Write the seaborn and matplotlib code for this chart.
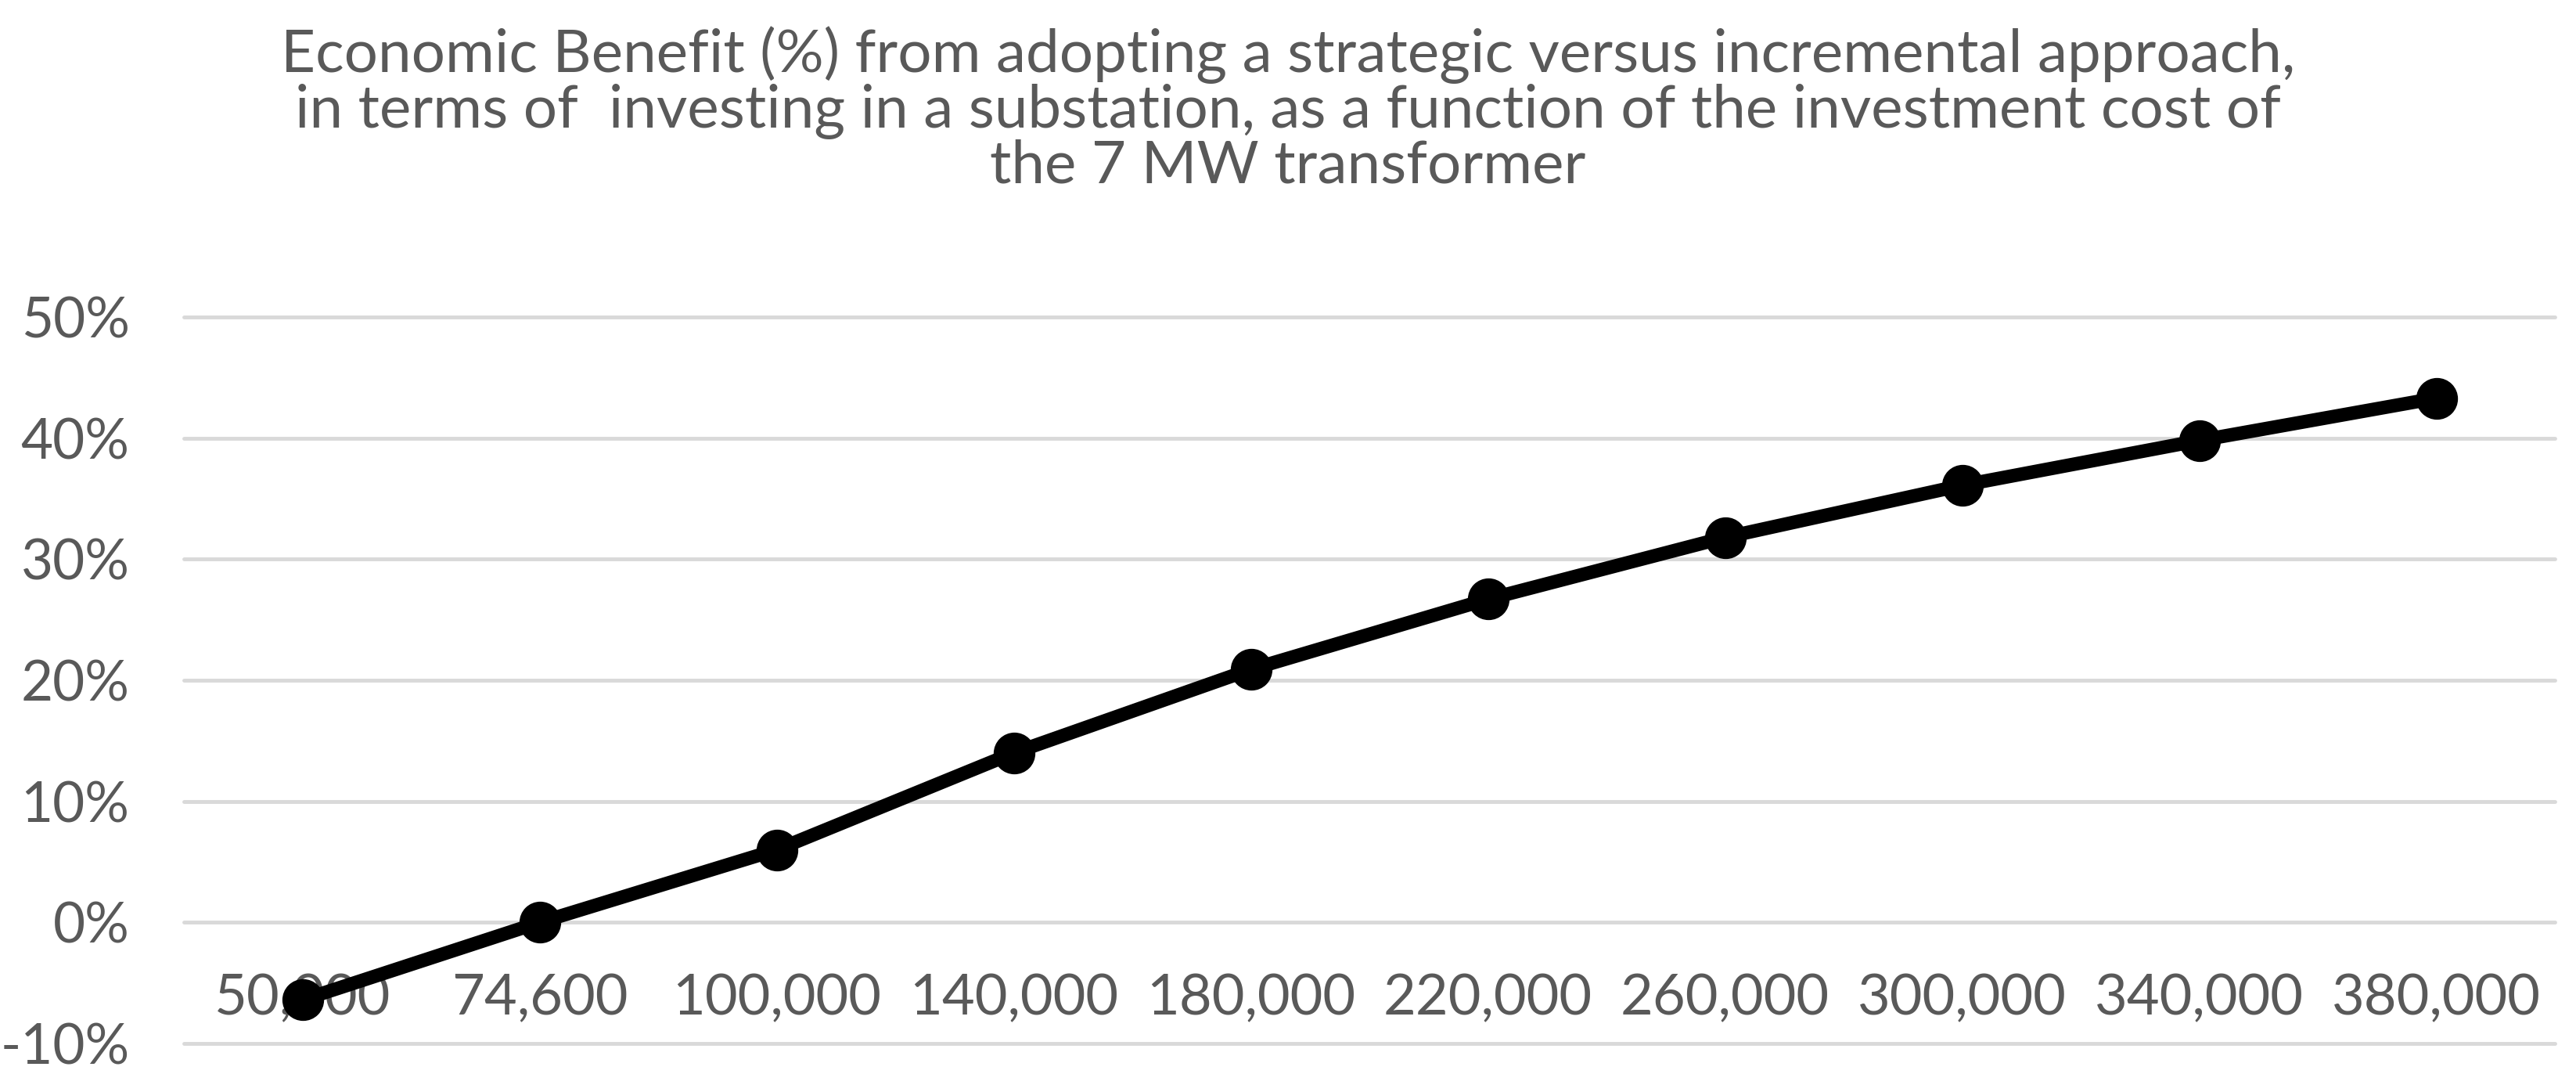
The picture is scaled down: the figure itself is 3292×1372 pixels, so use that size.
import matplotlib
matplotlib.use("Agg")
import matplotlib.pyplot as plt
import seaborn as sns
import pandas as pd

# ---- data ----
costs = ["50,000", "74,600", "100,000", "140,000", "180,000",
         "220,000", "260,000", "300,000", "340,000", "380,000"]
benefit = [-0.064, 0.0, 0.060, 0.140, 0.209, 0.267, 0.318, 0.361, 0.398, 0.433]
ytick_values = [-0.1, 0.0, 0.1, 0.2, 0.3, 0.4, 0.5]
ytick_labels = ["-10%", "0%", "10%", "20%", "30%", "40%", "50%"]
title = ("Economic Benefit (%) from adopting a strategic versus incremental approach,\n"
         "in terms of  investing in a substation, as a function of the investment cost of\n"
         "the 7 MW transformer")

df = pd.DataFrame({"cost": costs, "benefit": benefit})

sns.set_theme(style="white")
plt.rcParams["font.family"] = ["Lato", "DejaVu Sans"]
plt.rcParams["axes.unicode_minus"] = False

TXT = "#595959"
GRID = "#D9D9D9"

fig = plt.figure(figsize=(32.92, 13.72), dpi=100)
ax = fig.add_axes([0.0714, 0.0284, 0.9204, 0.6764])

for v in ytick_values:
    ax.axhline(v, color=GRID, linewidth=3.5, zorder=0)

sns.pointplot(data=df, x="cost", y="benefit", order=costs, color="black",
              errorbar=None, markersize=29, linewidth=12.5, ax=ax, zorder=3)
for artist in ax.lines + ax.collections:
    artist.set_clip_on(False)

ax.set_xlim(-0.5, len(costs) - 0.5)
ax.set_ylim(-0.1, 0.5)
ax.set_yticks(ytick_values)
ax.set_yticklabels(ytick_labels)
ax.set_xlabel("")
ax.set_ylabel("")

for s in ax.spines.values():
    s.set_visible(False)
ax.spines["bottom"].set_position(("data", 0))

ax.tick_params(axis="y", length=0, pad=50, labelsize=51, labelcolor=TXT)
ax.tick_params(axis="x", length=0, pad=47, labelsize=52, labelcolor=TXT)
for lab in ax.get_xticklabels():
    lab.set_zorder(5)
ax.grid(False)

fig.suptitle(title, y=0.976, fontsize=55, color=TXT, linespacing=1.0, va="top")

fig.savefig("out.png", dpi=100, facecolor="white")
